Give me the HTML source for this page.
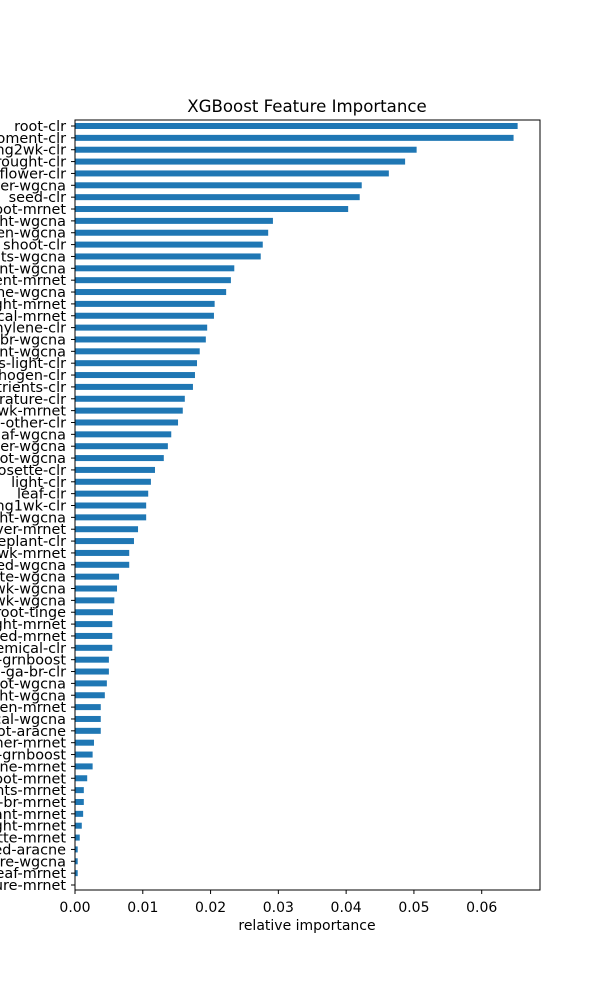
<!DOCTYPE html>
<html><head><meta charset="utf-8"><style>
body{margin:0;background:#fff;}
svg{display:block;font-family:"DejaVu Sans","Liberation Sans",sans-serif;}
</style></head><body>
<svg id="chart" width="600" height="1000">
<text x="307" y="112" text-anchor="middle" font-size="16.6">XGBoost Feature Importance</text>
<g id="bars"></g>
<g id="yaxis"></g>
<g id="xaxis"></g>
<rect x="75" y="120" width="465" height="770" fill="none" stroke="#000" stroke-width="1"/>
<text x="307" y="930" text-anchor="middle" font-size="14">relative importance</text>
</svg>
<script>
const features=["root-clr","oment-clr","ng2wk-clr","rought-clr","flower-clr","er-wgcna","seed-clr","oot-mrnet","ht-wgcna","en-wgcna","shoot-clr","ts-wgcna","nt-wgcna","ent-mrnet","ne-wgcna","ght-mrnet","cal-mrnet","hylene-clr","br-wgcna","nt-wgcna","s-light-clr","hogen-clr","trients-clr","rature-clr","wk-mrnet","-other-clr","af-wgcna","er-wgcna","ot-wgcna","osette-clr","light-clr","leaf-clr","ng1wk-clr","ht-wgcna","ver-mrnet","eplant-clr","wk-mrnet","ed-wgcna","te-wgcna","wk-wgcna","wk-wgcna","root-tinge","ght-mrnet","ed-mrnet","emical-clr","-grnboost","-ga-br-clr","ot-wgcna","ht-wgcna","en-mrnet","cal-wgcna","ot-aracne","ner-mrnet","-grnboost","ne-mrnet","oot-mrnet","nts-mrnet","-br-mrnet","ant-mrnet","ght-mrnet","tte-mrnet","ed-aracne","re-wgcna","eaf-mrnet","ure-mrnet"];
const importance=[.0653,.0647,.0504,.0487,.0463,.0423,.0420,.0403,.0292,.0285,.0277,.0274,.0235,.0230,.0223,.0206,.0205,.0195,.0193,.0184,.0180,.0177,.0174,.0162,.0159,.0152,.0142,.0137,.0131,.0118,.0112,.0108,.0105,.0105,.0093,.0087,.0080,.0080,.0065,.0062,.0058,.0056,.0055,.0055,.0055,.0050,.0050,.0047,.0044,.0038,.0038,.0038,.0028,.0026,.0026,.0018,.0013,.0013,.0012,.0010,.0007,.0004,.0004,.0004,0];
const xTicks=[0,0.01,0.02,0.03,0.04,0.05,0.06];
const xTickLabels=["0.00","0.01","0.02","0.03","0.04","0.05","0.06"];
const NS="http://www.w3.org/2000/svg";
const x0=75,x1=540,xmax=0.0686,yTop=126,yBot=885;
const xs=v=>x0+v/xmax*(x1-x0);
const ys=i=>yTop+i*(yBot-yTop)/(features.length-1);
const bars=document.getElementById('bars'),ya=document.getElementById('yaxis'),xa=document.getElementById('xaxis');
features.forEach((f,i)=>{
 const r=document.createElementNS(NS,'rect');
 r.setAttribute('x',x0);r.setAttribute('y',ys(i)-3);
 r.setAttribute('width',xs(importance[i])-x0);r.setAttribute('height',6);
 r.setAttribute('fill','#1f77b4');
 
 
 bars.appendChild(r);
 const t=document.createElementNS(NS,'line');
 t.setAttribute('x1',x0-4);t.setAttribute('x2',x0);t.setAttribute('y1',ys(i));t.setAttribute('y2',ys(i));t.setAttribute('stroke','#000');
 ya.appendChild(t);
 const l=document.createElementNS(NS,'text');
 l.setAttribute('x',x0-9);l.setAttribute('y',ys(i)+5);l.setAttribute('text-anchor','end');l.setAttribute('font-size','14.4');
 l.textContent=f;
 
 
 ya.appendChild(l);
});
xTicks.forEach((v,i)=>{
 const t=document.createElementNS(NS,'line');
 t.setAttribute('x1',xs(v));t.setAttribute('x2',xs(v));t.setAttribute('y1',890);t.setAttribute('y2',894);t.setAttribute('stroke','#000');
 xa.appendChild(t);
 const l=document.createElementNS(NS,'text');
 l.setAttribute('x',xs(v));l.setAttribute('y',912);l.setAttribute('text-anchor','middle');l.setAttribute('font-size','14');
 l.textContent=xTickLabels[i];
 
 
 xa.appendChild(l);
});
</script>
</body></html>
